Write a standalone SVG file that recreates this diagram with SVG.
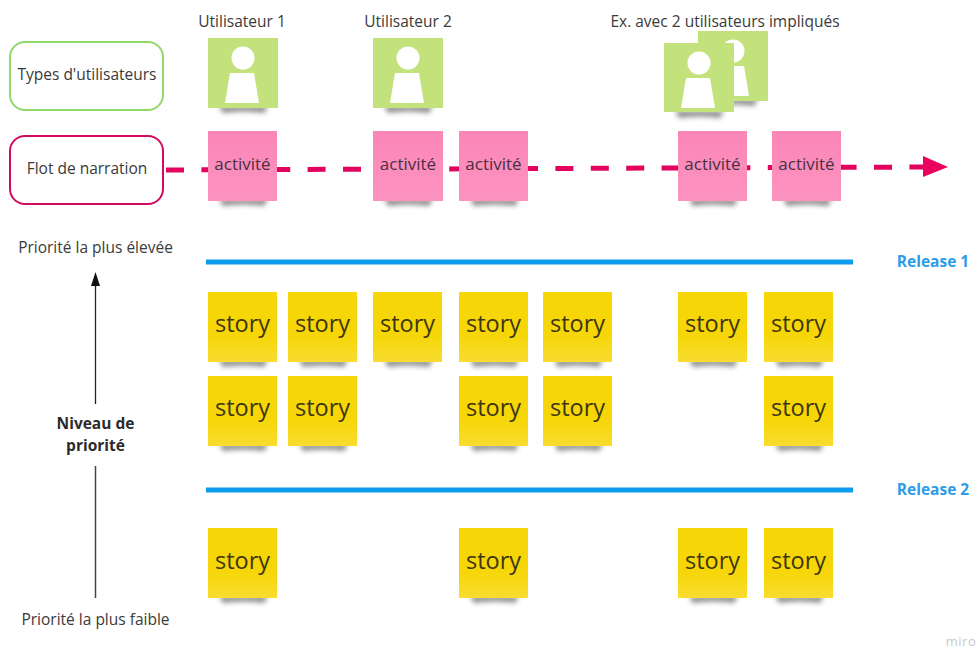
<svg xmlns="http://www.w3.org/2000/svg" width="979" height="650" viewBox="0 0 979 650">
<style>
text{font-family:"Open Sans","DejaVu Sans",sans-serif;fill:#3a3a3a;text-anchor:middle}
.l{font-size:15.500px}
.b{font-size:15.500px;font-weight:700;fill:#2b2b2b}
.r{font-size:15.500px;font-weight:700;fill:#2d9be8}
.a{font-size:17px;fill:#4a3040}
.s{font-size:23.500px;fill:#3d3510}
.g{fill:#c4e27c}.p{fill:url(#pg)}.y{fill:url(#yg)}
.bl{stroke:#0f9bee;stroke-width:5;fill:none}
.u{fill:#fff}
</style>
<defs>
<linearGradient id="yg" x1="0" y1="0" x2="0" y2="1"><stop offset="0.600" stop-color="#f6d606"/><stop offset="1" stop-color="#f8dc30"/></linearGradient>
<linearGradient id="pg" x1="0" y1="0" x2="0" y2="1"><stop offset="0" stop-color="#fb86b8"/><stop offset="1" stop-color="#fc93c0"/></linearGradient>
<filter id="blur" x="-30%" y="-300%" width="160%" height="700%"><feGaussianBlur stdDeviation="2.800"/></filter>
<path id="sh" d="M11 68H60L56 75Q35 72 15 75Z" fill="#333" opacity=".55" filter="url(#blur)"/>
<g id="person"><circle cx="35" cy="20" r="11.500" class="u"/><path d="M22 35H46L51 65H17Z" class="u"/></g>
</defs>
<rect width="979" height="650" fill="#fff"/>

<g id="connectors">
<path d="M166 170L925 167" fill="none" stroke="#e2035f" stroke-width="5" stroke-dasharray="18 17.400"/>
<path d="M923 156L948 167L923 177Z" fill="#e9035f"/>
<path d="M95.500 404V284" stroke="#222" stroke-width="1.300"/>
<path d="M95.500 272L91 286H100Z" fill="#111"/>
<path d="M95.500 466V598" stroke="#444" stroke-width="1.500"/>
<path class="bl" d="M206 262H853"/>
<path class="bl" d="M206 490H853"/>
</g>

<g id="label-u1"><text class="l" x="242" y="27">Utilisateur 1</text></g>
<g id="label-u2"><text class="l" x="408" y="27">Utilisateur 2</text></g>
<g id="label-ex"><text class="l" x="725" y="27">Ex. avec 2 utilisateurs impliqués</text></g>

<g id="box-types"><rect x="10" y="42" width="153" height="68" rx="15" fill="#fff" stroke="#8fd96b" stroke-width="2"/><text class="l" x="87" y="80">Types d'utilisateurs</text></g>
<g id="box-flot"><rect x="10" y="136" width="153" height="68" rx="15" fill="#fff" stroke="#d10a62" stroke-width="2"/><text class="l" x="87" y="174">Flot de narration</text></g>

<g id="user-1" transform="translate(208 38)"><use href="#sh"/><rect class="g" width="70" height="70"/><use href="#person"/></g>
<g id="user-2" transform="translate(373 38)"><use href="#sh"/><rect class="g" width="70" height="70"/><use href="#person"/></g>
<g id="user-3" transform="translate(698 31)"><use href="#sh"/><rect class="g" width="70" height="70"/><use href="#person"/></g>
<g id="user-4" transform="translate(664 43)"><use href="#sh"/><rect class="g" width="70" height="69"/><use href="#person"/></g>

<g id="act-1" transform="translate(208 131)"><use href="#sh"/><rect class="p" width="69" height="70"/><text class="a" x="34.500" y="39">activité</text></g>
<g id="act-2" transform="translate(373 131)"><use href="#sh"/><rect class="p" width="70" height="70"/><text class="a" x="35" y="39">activité</text></g>
<g id="act-3" transform="translate(459 131)"><use href="#sh"/><rect class="p" width="69" height="70"/><text class="a" x="34.500" y="39">activité</text></g>
<g id="act-4" transform="translate(678 131)"><use href="#sh"/><rect class="p" width="69" height="70"/><text class="a" x="34.500" y="39">activité</text></g>
<g id="act-5" transform="translate(772 131)"><use href="#sh"/><rect class="p" width="69" height="70"/><text class="a" x="34.500" y="39">activité</text></g>

<g id="s-1-1" transform="translate(208 292)"><use href="#sh"/><rect class="y" width="69" height="70"/><text class="s" x="34.500" y="40">story</text></g>
<g id="s-1-2" transform="translate(288 292)"><use href="#sh"/><rect class="y" width="69" height="70"/><text class="s" x="34.500" y="40">story</text></g>
<g id="s-1-3" transform="translate(373 292)"><use href="#sh"/><rect class="y" width="69" height="70"/><text class="s" x="34.500" y="40">story</text></g>
<g id="s-1-4" transform="translate(459 292)"><use href="#sh"/><rect class="y" width="69" height="70"/><text class="s" x="34.500" y="40">story</text></g>
<g id="s-1-5" transform="translate(543 292)"><use href="#sh"/><rect class="y" width="69" height="70"/><text class="s" x="34.500" y="40">story</text></g>
<g id="s-1-6" transform="translate(678 292)"><use href="#sh"/><rect class="y" width="69" height="70"/><text class="s" x="34.500" y="40">story</text></g>
<g id="s-1-7" transform="translate(764 292)"><use href="#sh"/><rect class="y" width="69" height="70"/><text class="s" x="34.500" y="40">story</text></g>

<g id="s-2-1" transform="translate(208 376)"><use href="#sh"/><rect class="y" width="69" height="70"/><text class="s" x="34.500" y="40">story</text></g>
<g id="s-2-2" transform="translate(288 376)"><use href="#sh"/><rect class="y" width="69" height="70"/><text class="s" x="34.500" y="40">story</text></g>
<g id="s-2-4" transform="translate(459 376)"><use href="#sh"/><rect class="y" width="69" height="70"/><text class="s" x="34.500" y="40">story</text></g>
<g id="s-2-5" transform="translate(543 376)"><use href="#sh"/><rect class="y" width="69" height="70"/><text class="s" x="34.500" y="40">story</text></g>
<g id="s-2-7" transform="translate(764 376)"><use href="#sh"/><rect class="y" width="69" height="70"/><text class="s" x="34.500" y="40">story</text></g>

<g id="s-3-1" transform="translate(208 528)"><use href="#sh"/><rect class="y" width="69" height="70"/><text class="s" x="34.500" y="41">story</text></g>
<g id="s-3-4" transform="translate(459 528)"><use href="#sh"/><rect class="y" width="69" height="70"/><text class="s" x="34.500" y="41">story</text></g>
<g id="s-3-6" transform="translate(678 528)"><use href="#sh"/><rect class="y" width="69" height="70"/><text class="s" x="34.500" y="41">story</text></g>
<g id="s-3-7" transform="translate(764 528)"><use href="#sh"/><rect class="y" width="69" height="70"/><text class="s" x="34.500" y="41">story</text></g>

<g id="label-high"><text class="l" x="95.500" y="253">Priorité la plus élevée</text></g>
<g id="label-niveau"><text class="b" x="95.500" y="429">Niveau de</text><text class="b" x="95.500" y="451">priorité</text></g>
<g id="label-low"><text class="l" x="95.500" y="625">Priorité la plus faible</text></g>
<g id="label-r1"><text class="r" x="933" y="267">Release 1</text></g>
<g id="label-r2"><text class="r" x="933" y="495">Release 2</text></g>
<text x="961" y="646" style="font-size:13px;fill:#c8c8c8;letter-spacing:.5px">miro</text>
</svg>
